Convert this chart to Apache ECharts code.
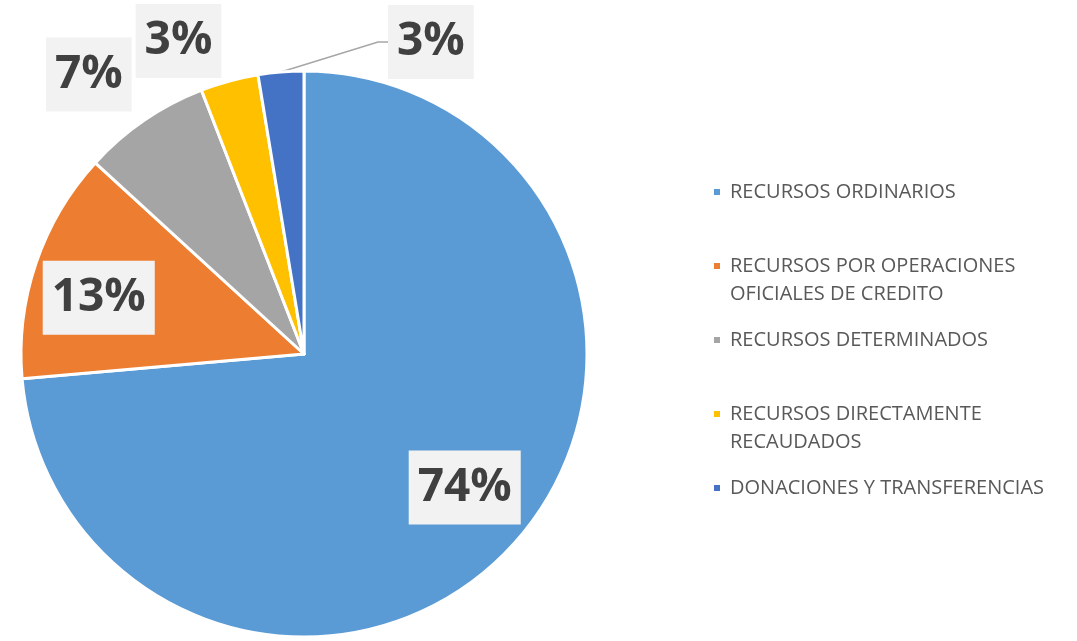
<!DOCTYPE html>
<html>
<head>
<meta charset="utf-8">
<script src="https://cdn.jsdelivr.net/npm/echarts@6/dist/echarts.min.js"></script>
<style>
  html, body { margin: 0; padding: 0; background: #fff; }
  #chart { width: 1077px; height: 641px; }
</style>
</head>
<body>
<div id="chart"></div>
<script>
// share of budget by funding source (percent)
const categories = [
  'RECURSOS ORDINARIOS',
  'RECURSOS POR OPERACIONES OFICIALES DE CREDITO',
  'RECURSOS DETERMINADOS',
  'RECURSOS DIRECTAMENTE RECAUDADOS',
  'DONACIONES Y TRANSFERENCIAS'
]
// legend text as wrapped in the original (leading blank line keeps the marker on the first line)
const legendText = [
  'RECURSOS ORDINARIOS',
  '\nRECURSOS POR OPERACIONES\nOFICIALES DE CREDITO',
  'RECURSOS DETERMINADOS',
  '\nRECURSOS DIRECTAMENTE\nRECAUDADOS',
  'DONACIONES Y TRANSFERENCIAS'
]
const values = [73.6, 13.2, 7.3, 3.3, 2.6]
const colors = ['#5B9BD5', '#ED7D31', '#A5A5A5', '#FFC000', '#4472C4']

const center = [304, 354]
const R = 283

const labelBox = {
  fontFamily: 'Open Sans',
  fontWeight: 'bold',
  fontSize: 46,
  lineHeight: 54,
  color: '#404040',
  backgroundColor: '#f2f2f2',
  padding: [10, 9, 10, 9],
  formatter: p => Math.round(p.percent) + '%'
}

const pieData = categories.map((name, i) => ({ name, value: values[i], itemStyle: { color: colors[i] } }))

// invisible copies of the pie, only used to place labels at a given radius
const ringData = (show) => categories.map((name, i) => ({
  name, value: values[i],
  itemStyle: { color: 'rgba(0,0,0,0)', borderWidth: 0 },
  label: { show: show.indexOf(i) >= 0 }
}))

const nudges = {
  0: { dx: 4, dy: -10 },
  1: { dx: -4, dy: 12 },
  2: { dx: -15, dy: 13 },
  3: { dx: -32, dy: 29 }
}

const chart = echarts.init(document.getElementById('chart'))
chart.setOption({
  animation: false,
  legend: {
    orient: 'vertical',
    left: 712,
    top: 178,
    padding: 0,
    icon: 'rect',
    itemWidth: 8,
    itemHeight: 8,
    itemGap: 18,
    selectedMode: false,
    data: categories.map((name, i) => ({ name, itemStyle: { color: colors[i] } })),
    formatter: name => legendText[categories.indexOf(name)],
    textStyle: {
      fontFamily: 'Open Sans',
      fontSize: 20,
      lineHeight: 28,
      color: '#595959',
      padding: [0, 0, 0, 4]
    }
  },
  series: [
    {
      type: 'pie',
      center: center,
      radius: R,
      startAngle: 90,
      itemStyle: { borderColor: '#fff', borderWidth: 3 },
      data: pieData.map((d, i) => Object.assign({}, d, { label: { show: i === 4 }, labelLine: { show: i === 4 } })),
      label: Object.assign({ position: 'outside' }, labelBox),
      labelLine: { length: 40, length2: 10, lineStyle: { color: '#a6a6a6', width: 1.5 } },
      labelLayout: p => p.dataIndex === 4 ? { x: 388, y: 42, align: 'left', verticalAlign: 'middle' } : {}
    },
    {
      type: 'pie',
      silent: true,
      center: center,
      radius: [136, R],
      startAngle: 90,
      legendHoverLink: false,
      data: ringData([0, 1]),
      label: Object.assign({ position: 'inside' }, labelBox),
      labelLine: { show: false },
      labelLayout: p => nudges[p.dataIndex] || {}
    },
    {
      type: 'pie',
      silent: true,
      center: center,
      radius: [R, 420],
      startAngle: 90,
      legendHoverLink: false,
      data: ringData([2, 3]),
      label: Object.assign({ position: 'inside' }, labelBox),
      labelLine: { show: false },
      labelLayout: p => nudges[p.dataIndex] || {}
    }
  ]
})
</script>
</body>
</html>
